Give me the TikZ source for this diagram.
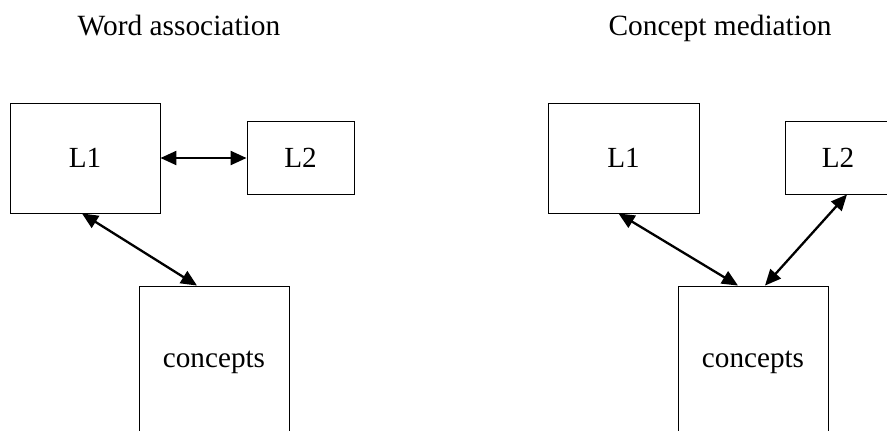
\documentclass[tikz,border=0pt]{standalone}
\usepackage{fontspec}
\setmainfont{Liberation Serif}
\usetikzlibrary{arrows.meta}
\begin{document}
\begin{tikzpicture}[x=1bp,y=-1bp,
  box/.style={draw=black,line width=0.9bp,rectangle,inner sep=0pt,font=\fontsize{29.3}{32}\selectfont},
  title/.style={inner sep=0pt,anchor=base,font=\fontsize{29.5}{32}\selectfont},
  link/.style={line width=2.3bp,{Triangle[length=16bp,width=14bp]}-{Triangle[length=16bp,width=14bp]}}]
\useasboundingbox (0,0) rectangle (887,430);
\clip (0,0) rectangle (887,430);
% titles
\node[title] (t1) at (179,35) {Word association};
\node[title] (t2) at (720,35) {Concept mediation};
% left: word association
\node[box,minimum width=150bp,minimum height=110bp] (L1a) at (85,158) {L1};
\node[box,minimum width=107bp,minimum height=73bp] (L2a) at (300.5,157.5) {L2};
\node[box,minimum width=150bp,minimum height=152bp] (Ca) at (214,362) {concepts};
% right: concept mediation
\node[box,minimum width=151bp,minimum height=110bp] (L1b) at (623.5,158) {L1};
\node[box,minimum width=106bp,minimum height=73bp] (L2b) at (838,157.5) {L2};
\node[box,minimum width=150bp,minimum height=152bp] (Cb) at (753,362) {concepts};
% connectors
\draw[link] (L1a.east) -- (L2a.west |- L1a.east);
\draw[link] ([xshift=-3bp]L1a.south) -- ([xshift=-17bp]Ca.north);
\draw[link] ([xshift=-5bp]L1b.south) -- ([xshift=-15bp]Cb.north);
\draw[link] ([xshift=9bp]L2b.south) -- ([xshift=12bp]Cb.north);
\end{tikzpicture}
\end{document}
